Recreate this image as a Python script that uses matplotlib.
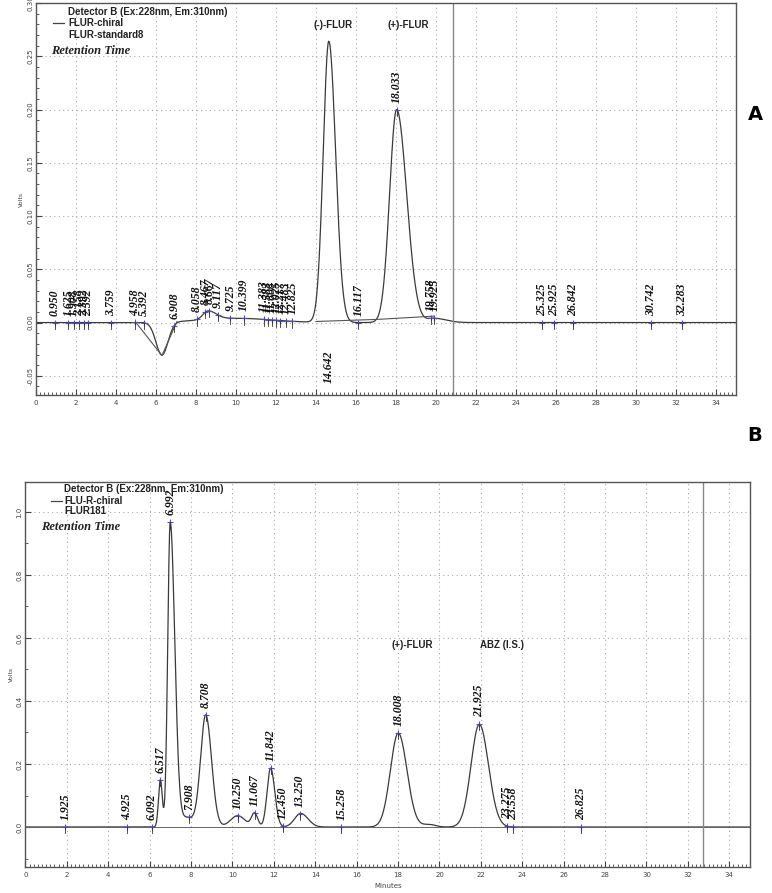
import numpy as np
import matplotlib
matplotlib.use("Agg")
import matplotlib.pyplot as plt
from matplotlib.ticker import MultipleLocator, FormatStrFormatter

# ---- panel A: peak table (min, Volts, widths in min) ----
a_peak_rt = [6.30, 8.60, 10.0, 14.642, 18.033, 19.90]
a_peak_h = [-0.031, 0.008, 0.004, 0.264, 0.200, 0.004]
a_peak_wl = [0.30, 0.25, 1.80, 0.28, 0.35, 0.30]
a_peak_wr = [0.30, 0.40, 1.80, 0.34, 0.50, 0.60]

a_labels = ['0.950', '1.625', '1.908', '2.158', '2.392', '2.592', '3.759',
            '4.958', '5.392', '6.908', '8.058', '8.467', '8.667', '9.117',
            '9.725', '10.399', '11.383', '11.583', '11.808', '12.025',
            '12.217', '12.483', '12.825', '16.117', '18.033', '19.758',
            '19.925', '25.325', '25.925', '26.842', '30.742', '32.283']
a_below = ['14.642']
a_names = ['(-)-FLUR', '(+)-FLUR']
a_name_rt = [14.85, 18.6]

# integration baselines drawn by the software
a_base_t = [14.0, 17.1, 19.9]
a_base_v = [0.001, 0.003, 0.006]
a_dip_t = [5.0, 6.3, 7.05]
a_dip_v = [0.0, -0.031, 0.001]

# ---- panel B ----
b_peak_rt = [6.517, 6.992, 7.80, 8.708, 10.25, 11.067, 11.842, 13.30, 18.008, 19.50, 21.925]
b_peak_h = [0.150, 0.965, 0.030, 0.355, 0.036, 0.043, 0.187, 0.043, 0.298, 0.008, 0.326]
b_peak_wl = [0.09, 0.12, 0.35, 0.25, 0.35, 0.15, 0.17, 0.30, 0.38, 0.30, 0.40]
b_peak_wr = [0.09, 0.22, 0.35, 0.28, 0.35, 0.15, 0.20, 0.35, 0.42, 0.30, 0.44]

b_labels = ['1.925', '4.925', '6.092', '6.517', '6.992', '7.908', '8.708',
            '10.250', '11.067', '11.842', '12.450', '13.250', '15.258',
            '18.008', '21.925', '23.275', '23.558', '26.825']
b_names = ['(+)-FLUR', 'ABZ (I.S.)']
b_name_rt = [18.7, 23.0]


def trace(t, rt, h, wl, wr):
    y = np.zeros_like(t)
    for r, a, s1, s2 in zip(rt, h, wl, wr):
        s = np.where(t < r, s1, s2)
        y += a * np.exp(-0.5 * ((t - r) / s) ** 2)
    return y


t = np.linspace(0, 35, 3501)
ya = trace(t, a_peak_rt, a_peak_h, a_peak_wl, a_peak_wr)
yb = trace(t, b_peak_rt, b_peak_h, b_peak_wl, b_peak_wr)

fig = plt.figure(figsize=(7.72, 8.93), dpi=100)
ax1 = fig.add_axes([0.0466, 0.5577, 0.9067, 0.4389])
ax2 = fig.add_axes([0.0330, 0.0291, 0.9385, 0.4311])

lbl_font = dict(family='Liberation Serif', style='italic', fontweight='bold',
                fontsize=8.5, color='#111111')
hdr_font = dict(family='Liberation Sans', fontweight='bold', fontsize=7, color='#222222')


def style(ax, ymin, ymax, ymaj, ymin_step, fmt):
    ax.set_xlim(0, 35)
    ax.set_ylim(ymin, ymax)
    ax.xaxis.set_major_locator(MultipleLocator(2))
    ax.xaxis.set_minor_locator(MultipleLocator(0.2))
    ax.yaxis.set_major_locator(MultipleLocator(ymaj))
    ax.yaxis.set_minor_locator(MultipleLocator(ymin_step))
    ax.yaxis.set_major_formatter(FormatStrFormatter(fmt))
    ax.tick_params(which='both', direction='in', colors='#444444', labelsize=5)
    ax.tick_params(which='major', length=4)
    ax.tick_params(which='minor', length=2)
    ax.tick_params(axis='y', labelrotation=90, pad=2)
    for lab in ax.get_yticklabels():
        lab.set_va('center')
    ax.grid(True, which='major', ls=(0, (1, 3)), color='#aaaaaa', lw=0.8)
    for sp in ax.spines.values():
        sp.set_color('#555555')
        sp.set_linewidth(1.0)
    ax.set_ylabel('Volts', fontsize=4.5, color='#444444', labelpad=2)


def peak_labels(ax, tt, yy, labels, off=5):
    span = ax.get_ylim()[1] - ax.get_ylim()[0]
    for s in labels:
        r = float(s)
        v = np.interp(r, tt, yy)
        ax.plot([r], [v], marker='+', color='#5050c8', ms=5, mew=0.8, ls='none')
        ax.plot([r, r], [v - 0.016 * span, v], color='#333333', lw=0.6)
        ax.annotate(s, (r, v), xytext=(0, off), textcoords='offset points',
                    rotation=90, ha='center', va='bottom', **lbl_font)


# ---- panel A ----
style(ax1, -0.068, 0.30, 0.05, 0.01, '%.2f')
ax1.plot(t, ya, color='#3a3a3a', lw=0.9)
ax1.plot(a_base_t, a_base_v, color='#555555', lw=0.8)
ax1.plot(a_dip_t, a_dip_v, color='#555555', lw=0.8)
ax1.axvline(20.85, color='#888888', lw=1.0)
peak_labels(ax1, t, ya, a_labels)
for s in a_below:
    ax1.annotate(s, (float(s), -0.026), rotation=90, ha='center', va='top', **lbl_font)
for n, r in zip(a_names, a_name_rt):
    ax1.text(r, 0.279, n, ha='center', va='center', **hdr_font)
ax1.text(0.046, 0.978, 'Detector B (Ex:228nm, Em:310nm)', transform=ax1.transAxes, va='center', **hdr_font)
ax1.text(0.046, 0.948, 'FLUR-chiral', transform=ax1.transAxes, va='center', **hdr_font)
ax1.text(0.046, 0.918, 'FLUR-standard8', transform=ax1.transAxes, va='center', **hdr_font)
ax1.plot([0.024, 0.040], [0.948, 0.948], transform=ax1.transAxes, color='#444444', lw=0.9)
ax1.text(0.022, 0.877, 'Retention Time', transform=ax1.transAxes, va='center',
         family='Liberation Serif', style='italic', fontweight='bold', fontsize=9, color='#222222')

# ---- panel B ----
style(ax2, -0.127, 1.095, 0.2, 0.1, '%.1f')
ax2.plot(t, yb, color='#3a3a3a', lw=0.9)
ax2.axhline(0, color='#666666', lw=0.7)
ax2.axvline(32.75, color='#888888', lw=1.0)
peak_labels(ax2, t, yb, b_labels)
for n, r in zip(b_names, b_name_rt):
    ax2.text(r, 0.577, n, ha='center', va='center', **hdr_font)
ax2.text(0.053, 0.982, 'Detector B (Ex:228nm, Em:310nm)', transform=ax2.transAxes, va='center', **hdr_font)
ax2.text(0.053, 0.952, 'FLU-R-chiral', transform=ax2.transAxes, va='center', **hdr_font)
ax2.text(0.053, 0.924, 'FLUR181', transform=ax2.transAxes, va='center', **hdr_font)
ax2.plot([0.035, 0.050], [0.952, 0.952], transform=ax2.transAxes, color='#444444', lw=0.9)
ax2.text(0.022, 0.883, 'Retention Time', transform=ax2.transAxes, va='center',
         family='Liberation Serif', style='italic', fontweight='bold', fontsize=9, color='#222222')
ax2.set_xlabel('Minutes', fontsize=5, color='#444444', labelpad=4)

fig.text(755 / 772, 1 - 115 / 893, 'A', fontsize=14, fontweight='bold', ha='center', va='center')
fig.text(755 / 772, 1 - 435 / 893, 'B', fontsize=14, fontweight='bold', ha='center', va='center')

fig.savefig('out.png', dpi=100)
